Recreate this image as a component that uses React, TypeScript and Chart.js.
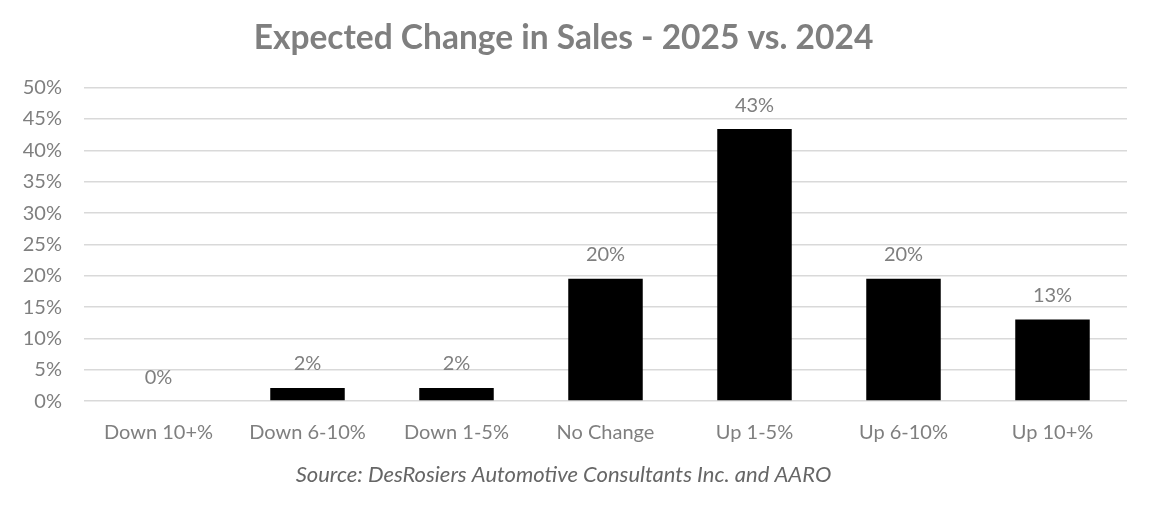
import React, { useEffect, useRef } from "react";
import { Chart, registerables } from "chart.js";

Chart.register(...registerables);

const categories = ["Down 10+%", "Down 6-10%", "Down 1-5%", "No Change", "Up 1-5%", "Up 6-10%", "Up 10+%"];
const shareValues = [0, 2.1, 2.1, 19.5, 43.4, 19.5, 13.0];
const shareLabels = ["0%", "2%", "2%", "20%", "43%", "20%", "13%"];
const yTicks = [0, 5, 10, 15, 20, 25, 30, 35, 40, 45, 50];

const FONT = "Lato, 'Noto Sans', sans-serif";
const GRAY = "#7f7f7f";

const barLabels = {
  id: "barLabels",
  afterDatasetsDraw(chart: any) {
    const ctx = chart.ctx;
    const meta = chart.getDatasetMeta(0);
    ctx.save();
    ctx.fillStyle = GRAY;
    ctx.font = `20px ${FONT}`;
    ctx.textAlign = "center";
    ctx.textBaseline = "middle";
    meta.data.forEach((el: any, i: number) => {
      ctx.fillText(shareLabels[i], el.x, el.y - 24);
    });
    ctx.restore();
  },
};

export default function App() {
  const ref = useRef<HTMLCanvasElement | null>(null);
  useEffect(() => {
    document.body.style.margin = "0";
    const chart = new Chart(ref.current as HTMLCanvasElement, {
      type: "bar",
      data: {
        labels: categories,
        datasets: [
          {
            data: shareValues,
            backgroundColor: "#000000",
            barPercentage: 0.5,
            categoryPercentage: 1,
          },
        ],
      },
      plugins: [barLabels],
      options: {
        animation: false,
        responsive: false,
        layout: { padding: { top: 0, left: 0, right: 36, bottom: 0 } },
        plugins: {
          legend: { display: false },
          tooltip: { enabled: false },
          title: {
            display: true,
            text: "Expected Change in Sales - 2025 vs. 2024",
            color: GRAY,
            font: { family: FONT, size: 33.5, weight: "bold" },
            padding: { top: 18, bottom: 29.5 },
          },
          subtitle: {
            display: true,
            position: "bottom",
            text: "Source: DesRosiers Automotive Consultants Inc. and AARO",
            color: "#666666",
            font: { family: FONT, size: 22, style: "italic" },
            padding: { top: 6, bottom: 21.5 },
          },
        },
        scales: {
          x: {
            afterFit(scale: any) {
              scale.height = 55;
            },
            grid: { display: false, drawTicks: false },
            border: { display: false },
            ticks: { color: GRAY, font: { family: FONT, size: 20 }, padding: 19 },
          },
          y: {
            min: 0,
            max: 50,
            afterFit(scale: any) {
              scale.width = 84;
            },
            afterBuildTicks(scale: any) {
              scale.ticks = yTicks.map((v) => ({ value: v }));
            },
            grid: { color: "#d9d9d9", lineWidth: 1.5, drawTicks: false },
            border: { display: false },
            ticks: {
              color: GRAY,
              font: { family: FONT, size: 20 },
              padding: 22,
              callback: (v: any) => `${v}%`,
            },
          },
        },
      },
    } as any);
    return () => chart.destroy();
  }, []);
  return (
    <div style={{ width: 1163, height: 510 }}>
      <canvas ref={ref} width={1163} height={510} style={{ display: "block" }} />
    </div>
  );
}
